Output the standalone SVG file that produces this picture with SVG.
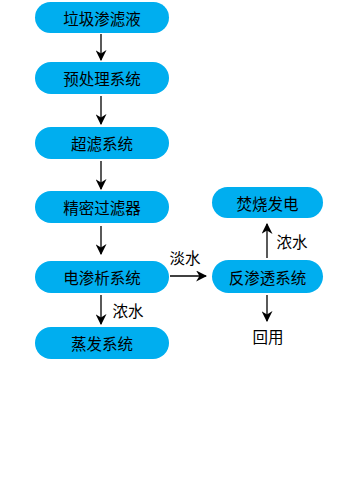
<svg xmlns="http://www.w3.org/2000/svg" width="360" height="500" viewBox="0 0 360 500">
<defs>
<style>
.n{fill:#00AEEF;}
.t{font-family:"Noto Sans CJK SC","Liberation Sans",sans-serif;font-size:15.5px;fill:#000;text-anchor:middle;dominant-baseline:central;}
.c{stroke:#000;stroke-width:1.3;fill:none;marker-end:url(#a);}
</style>
<marker id="a" markerWidth="11" markerHeight="11" viewBox="0 0 10 10" refX="9" refY="5" markerUnits="userSpaceOnUse" orient="auto">
<path d="M0,0 L10,5 L0,10 L3,5 Z" fill="#000"/>
</marker>
</defs>
<rect width="360" height="500" fill="#fff"/>
<g id="n1"><rect class="n" x="35" y="2" width="134" height="31" rx="15.5"/><text class="t" x="102" y="17.5">垃圾渗滤液</text></g>
<g id="n2"><rect class="n" x="35" y="62" width="134" height="32" rx="16"/><text class="t" x="102" y="78">预处理系统</text></g>
<g id="n3"><rect class="n" x="35" y="127" width="134" height="32" rx="16"/><text class="t" x="102" y="143">超滤系统</text></g>
<g id="n4"><rect class="n" x="35" y="191" width="134" height="32" rx="16"/><text class="t" x="102" y="207">精密过滤器</text></g>
<g id="n5"><rect class="n" x="35" y="261" width="134" height="32" rx="16"/><text class="t" x="102" y="277">电渗析系统</text></g>
<g id="n6"><rect class="n" x="35" y="327" width="134" height="32" rx="16"/><text class="t" x="102" y="343">蒸发系统</text></g>
<g id="n7"><rect class="n" x="212" y="187" width="111" height="31" rx="15.5"/><text class="t" x="267.5" y="202.5">焚烧发电</text></g>
<g id="n8"><rect class="n" x="212" y="260" width="111" height="33" rx="16.5"/><text class="t" x="267.5" y="276.5">反渗透系统</text></g>
<g id="connectors">
<line class="c" x1="101" y1="34" x2="101" y2="60"/>
<line class="c" x1="101" y1="96" x2="101" y2="124"/>
<line class="c" x1="101" y1="161" x2="101" y2="189"/>
<line class="c" x1="101" y1="226" x2="101" y2="254"/>
<line class="c" x1="101" y1="295" x2="101" y2="324"/>
<line class="c" x1="170" y1="276" x2="206" y2="276"/>
<line class="c" x1="267" y1="258" x2="267" y2="224"/>
<line class="c" x1="267" y1="295" x2="267" y2="321"/>
<text class="t" x="185" y="257">淡水</text>
<text class="t" x="128" y="310">浓水</text>
<text class="t" x="292" y="241">浓水</text>
<text class="t" x="268" y="336">回用</text>
</g>
</svg>
